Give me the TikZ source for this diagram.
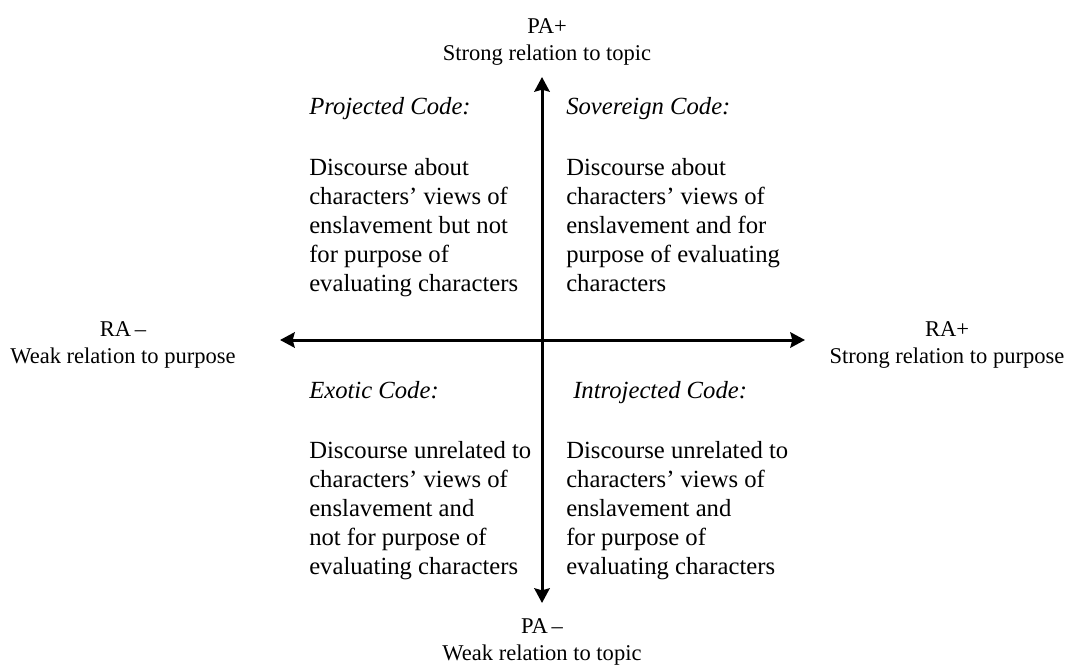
\documentclass[tikz,border=0pt]{standalone}
\usepackage{fontspec}
\setmainfont{Liberation Serif}
\usepackage{tikz}
\usetikzlibrary{arrows.meta}
\usetikzlibrary{positioning}

\begin{document}
\begin{tikzpicture}[x = .75pt, y = -.75pt,
  axis/.style = {line width = 2.25pt,
    {Stealth[length = 11pt, width = 11.5pt, inset = 1.5pt]}-{Stealth[length = 11pt, width = 11.5pt, inset = 1.5pt]}},
  pole/.style = {align = center, inner sep = 0pt,
    font = \fontsize{16.9}{20.3}\selectfont},
  codename/.style = {anchor = base west, inner sep = 0pt,
    font = \fontsize{18.5}{21.75}\selectfont\itshape},
  codetext/.style = {anchor = north west, align = left, inner sep = 0pt,
    font = \fontsize{18.5}{21.75}\selectfont}]
  \useasboundingbox (0,0) rectangle (1066,666);

% axes
  \node[shape = coordinate] (west) at (280,340) {};
  \node[shape = coordinate] (east) at (805,340) {};
  \node[shape = coordinate] (north) at (542,77) {};
  \node[shape = coordinate] (south) at (542,603) {};
  \draw[axis] (west) -- (east);
  \draw[axis] (south) -- (north);

% poles
  \node[pole] (raminus) at (123,345) {RA\,–\\Weak relation to purpose};
  \node[pole] (raplus) at (947,345) {RA+\\Strong relation to purpose};
  \node[pole] (paplus) at (547,42) {PA+\\Strong relation to topic};
  \node[pole] (paminus) at (542,642) {PA\,–\\Weak relation to topic};

% upper quadrants
  \node[codename] (projname) at (309,115) {Projected Code:};
  \node[codetext, below = 32pt of projname.base west, anchor = north west] (projtext)
    {Discourse about\\characters’ views of\\enslavement but not\\for purpose of\\evaluating characters};
  \node[codename] (sovname) at (566,115) {Sovereign Code:};
  \node[codetext, below = 32pt of sovname.base west, anchor = north west] (sovtext)
    {Discourse about\\characters’ views of\\enslavement and for\\purpose of evaluating\\characters};

% lower quadrants
  \node[codename] (exoname) at (309,398) {Exotic Code:};
  \node[codetext, below = 32pt of exoname.base west, anchor = north west] (exotext)
    {Discourse unrelated to\\characters’ views of\\enslavement and\\not for purpose of\\evaluating characters};
  \node[codename] (intname) at (573,398) {Introjected Code:};
  \node[codetext, below = 32pt of intname.base west, anchor = north west, xshift = -5.25pt] (inttext)
    {Discourse unrelated to\\characters’ views of\\enslavement and\\for purpose of\\evaluating characters};
\end{tikzpicture}
\end{document}
